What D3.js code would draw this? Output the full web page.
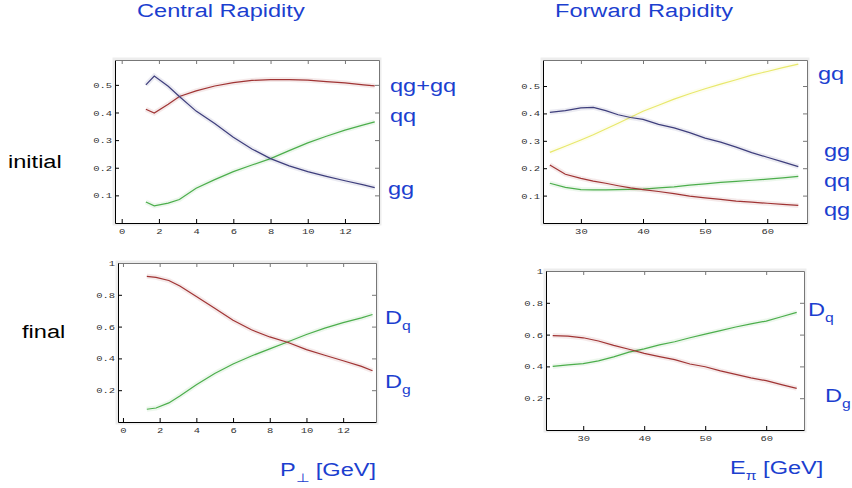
<!DOCTYPE html>
<html>
<head>
<meta charset="utf-8">
<script src="https://cdn.jsdelivr.net/npm/d3@7"></script>
<style>
  body { margin: 0; background: #fff; }
  svg { display: block; }
</style>
</head>
<body>
<div id="chart"></div>
<script>
// Canvas size (the slide is stretched horizontally, so text is too)
var width = 852, height = 488;
var SX = 1.31;

// Central rapidity, x = P_perp [GeV]
var ptInit = [1.3, 1.75, 2.5, 3.1, 4, 5, 6, 7, 8, 9, 10, 11, 12, 13, 13.6];
var cenQgGq = [0.412, 0.398, 0.43, 0.458, 0.478, 0.496, 0.508, 0.516, 0.519, 0.519, 0.517, 0.512, 0.507, 0.5, 0.496];
var cenQq   = [0.5, 0.532, 0.495, 0.458, 0.405, 0.36, 0.31, 0.268, 0.233, 0.207, 0.186, 0.169, 0.153, 0.138, 0.128];
var cenGg   = [0.076, 0.062, 0.072, 0.085, 0.126, 0.157, 0.186, 0.21, 0.233, 0.262, 0.29, 0.314, 0.336, 0.355, 0.366];

var ptFinal = [1.3, 1.8, 2.5, 3.1, 4, 5, 6, 7, 8, 9, 10, 11, 12, 13, 13.6];
var cenDg = [0.916, 0.91, 0.89, 0.855, 0.79, 0.715, 0.64, 0.58, 0.535, 0.5, 0.455, 0.42, 0.385, 0.35, 0.322];
var cenDq = [0.08, 0.088, 0.12, 0.164, 0.235, 0.305, 0.365, 0.415, 0.46, 0.505, 0.55, 0.59, 0.625, 0.655, 0.676];

// Forward rapidity, x = E_pi [GeV]
var eInit = [25, 27.5, 30, 32, 34, 36, 38, 40, 42.5, 45, 47.5, 50, 52.5, 55, 57.5, 60, 62.5, 65];
var fwdGq = [0.258, 0.28, 0.303, 0.322, 0.343, 0.364, 0.386, 0.408, 0.43, 0.452, 0.472, 0.49, 0.507, 0.523, 0.54, 0.553, 0.567, 0.58];
var fwdGg = [0.404, 0.41, 0.42, 0.422, 0.41, 0.395, 0.385, 0.378, 0.36, 0.347, 0.33, 0.31, 0.295, 0.277, 0.257, 0.24, 0.223, 0.206];
var fwdQq = [0.145, 0.13, 0.122, 0.121, 0.121, 0.122, 0.123, 0.124, 0.128, 0.132, 0.138, 0.143, 0.148, 0.152, 0.156, 0.16, 0.165, 0.17];
var fwdQg = [0.212, 0.178, 0.163, 0.153, 0.145, 0.136, 0.128, 0.122, 0.115, 0.107, 0.098, 0.092, 0.086, 0.08, 0.076, 0.072, 0.068, 0.064];

var eFinal = [25, 27.5, 30, 32.5, 35, 37.5, 40, 42.5, 45, 47.5, 50, 52.5, 55, 57.5, 60, 62.5, 65];
var fwdDg = [0.594, 0.59, 0.58, 0.56, 0.532, 0.508, 0.482, 0.462, 0.443, 0.415, 0.398, 0.372, 0.35, 0.328, 0.31, 0.285, 0.262];
var fwdDq = [0.4, 0.41, 0.418, 0.435, 0.46, 0.49, 0.51, 0.535, 0.555, 0.58, 0.603, 0.625, 0.648, 0.668, 0.685, 0.712, 0.74];

// Tick values
var ptTicks = [0, 2, 4, 6, 8, 10, 12];
var eTicks = [30, 40, 50, 60];
var initTicks = [0.1, 0.2, 0.3, 0.4, 0.5];
var finalTicks = [0.2, 0.4, 0.6, 0.8, 1];

var RED = "#a03434", BLUE = "#3e3e7c", GREEN = "#4cae4c", YELLOW = "#e8e86c";
var TXT = "#1c3fcf";

var svg = d3.select("#chart").append("svg")
    .attr("width", width)
    .attr("height", height);

// Stretched text helper
function label(x, y, str, color, size) {
    return svg.append("text")
        .attr("transform", "translate(" + x + "," + y + ") scale(" + SX + ",1)")
        .attr("font-family", "Arial, 'Liberation Sans', sans-serif")
        .attr("font-size", size || 18)
        .attr("fill", color || TXT)
        .text(str);
}

function subLabel(x, y, main, sub, color) {
    var t = label(x, y, main, color);
    t.append("tspan").attr("font-size", 12).attr("dy", 6).text(sub);
    return t;
}

// One Mathematica style framed panel
function panel(p) {
    var x = d3.scaleLinear().domain(p.xDomain).range([p.left, p.right]);
    var y = d3.scaleLinear().domain(p.yDomain).range([p.bottom, p.top]);
    var g = svg.append("g");

    // faint halo round the frame
    g.append("rect")
        .attr("x", p.left).attr("y", p.top)
        .attr("width", p.right - p.left).attr("height", p.bottom - p.top)
        .attr("fill", "none").attr("stroke", "#ededed").attr("stroke-width", 5);
    g.append("rect")
        .attr("x", p.left).attr("y", p.top)
        .attr("width", p.right - p.left).attr("height", p.bottom - p.top)
        .attr("fill", "#fff");

    var xMinor = d3.range(p.xDomain[0], p.xDomain[1], p.xMinorStep)
        .map(v => Math.ceil(v / p.xMinorStep) * p.xMinorStep)
        .filter(v => v >= p.xDomain[0] && v <= p.xDomain[1]);
    var yMinor = d3.range(0, p.yDomain[1], p.yMinorStep);

    // bottom & left: labelled axes
    var bx = g.append("g").attr("transform", "translate(0," + p.bottom + ")");
    bx.call(d3.axisBottom(x).tickValues(xMinor).tickSize(-2).tickSizeOuter(0).tickFormat(""));
    bx.call(d3.axisBottom(x).tickValues(p.xTicks).tickSize(-4).tickSizeOuter(0).tickPadding(5));
    var ly = g.append("g").attr("transform", "translate(" + p.left + ",0)");
    ly.call(d3.axisLeft(y).tickValues(yMinor).tickSize(-2).tickSizeOuter(0).tickFormat(""));
    ly.call(d3.axisLeft(y).tickValues(p.yTicks).tickSize(-4).tickSizeOuter(0).tickPadding(3)
        .tickFormat(d => d === 1 ? "1" : d3.format(".1f")(d)));

    // top & right: unlabelled
    var tx = g.append("g").attr("transform", "translate(0," + p.top + ")");
    tx.call(d3.axisTop(x).tickValues(xMinor).tickSize(-2).tickSizeOuter(0).tickFormat(""));
    tx.call(d3.axisTop(x).tickValues(p.xTicks).tickSize(-4).tickSizeOuter(0).tickFormat(""));
    var ry = g.append("g").attr("transform", "translate(" + p.right + ",0)");
    ry.call(d3.axisRight(y).tickValues(yMinor).tickSize(-2).tickSizeOuter(0).tickFormat(""));
    ry.call(d3.axisRight(y).tickValues(p.yTicks).tickSize(-4).tickSizeOuter(0).tickFormat(""));

    tx.selectAll("path,line").attr("stroke", "#777");
    ry.selectAll("path,line").attr("stroke", "#777");

    g.selectAll("text")
        .attr("font-family", "'Liberation Mono', 'DejaVu Sans Mono', monospace")
        .attr("font-size", 8)
        .attr("fill", "#333");
    bx.selectAll("text").attr("transform", "scale(" + SX + ",1)");
    ly.selectAll("text").attr("x", -3 / SX).attr("transform", "scale(" + SX + ",1)");

    var line = d3.line()
        .x((d, i) => x(p.xs[i]))
        .y(d => y(d));

    p.series.forEach(function(s) {
        g.append("path").datum(s.values)
            .attr("fill", "none").attr("stroke", s.color)
            .attr("stroke-opacity", 0.1).attr("stroke-width", 5)
            .attr("d", line);
        g.append("path").datum(s.values)
            .attr("fill", "none").attr("stroke", s.color)
            .attr("stroke-width", 1.2)
            .attr("d", line);
    });
}

panel({
    left: 115, right: 379, top: 60, bottom: 223,
    xDomain: [-0.36, 13.83], yDomain: [0, 0.59],
    xTicks: ptTicks, yTicks: initTicks, xMinorStep: 0.5, yMinorStep: 0.02,
    xs: ptInit,
    series: [
        { values: cenGg, color: GREEN },
        { values: cenQgGq, color: RED },
        { values: cenQq, color: BLUE }
    ]
});

panel({
    left: 543, right: 807, top: 60, bottom: 223,
    xDomain: [23.9, 66.4], yDomain: [0, 0.595],
    xTicks: eTicks, yTicks: initTicks, xMinorStep: 2, yMinorStep: 0.02,
    xs: eInit,
    series: [
        { values: fwdGq, color: YELLOW },
        { values: fwdQq, color: GREEN },
        { values: fwdQg, color: RED },
        { values: fwdGg, color: BLUE }
    ]
});

panel({
    left: 118, right: 376, top: 263, bottom: 422,
    xDomain: [-0.27, 13.79], yDomain: [0, 1],
    xTicks: ptTicks, yTicks: finalTicks, xMinorStep: 0.5, yMinorStep: 0.05,
    xs: ptFinal,
    series: [
        { values: cenDq, color: GREEN },
        { values: cenDg, color: RED }
    ]
});

panel({
    left: 546, right: 804, top: 271, bottom: 430,
    xDomain: [23.9, 66.2], yDomain: [0, 1],
    xTicks: eTicks, yTicks: finalTicks, xMinorStep: 2, yMinorStep: 0.05,
    xs: eFinal,
    series: [
        { values: fwdDq, color: GREEN },
        { values: fwdDg, color: RED }
    ]
});

// Titles and row labels
label(137, 17, "Central Rapidity");
label(555, 17, "Forward Rapidity");
label(8, 168, "initial", "#000");
label(22, 338, "final", "#000");

// Curve labels
label(390, 92, "qg+gq");
label(390, 122, "qq");
label(388, 195, "gg");
label(818, 80, "gq");
label(824, 157, "gg");
label(824, 187, "qq");
label(824, 216, "qg");
subLabel(385, 324, "D", "q");
subLabel(385, 388, "D", "g");
subLabel(808, 316, "D", "q");
subLabel(825, 402, "D", "g");

// Axis titles
var pt = subLabel(280, 476, "P", "\u22a5");
pt.append("tspan").attr("dy", -6).text(" [GeV]");
var e = subLabel(730, 474, "E", "\u03c0");
e.append("tspan").attr("dy", -6).text(" [GeV]");
</script>
</body>
</html>
